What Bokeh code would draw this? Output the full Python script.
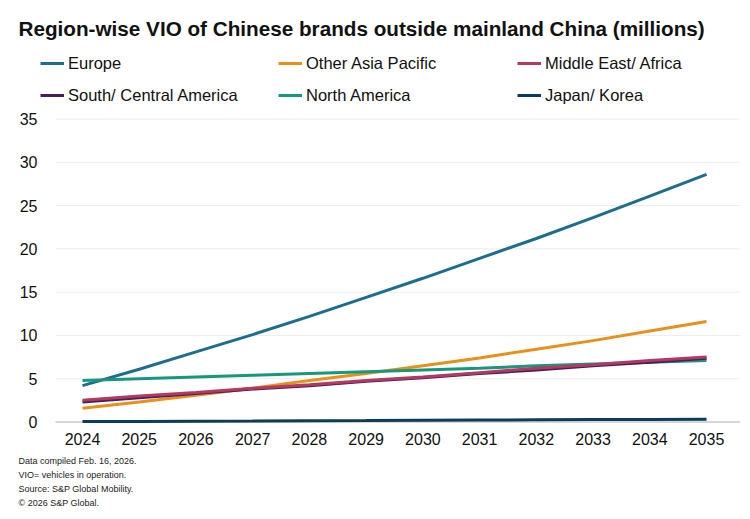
from bokeh.plotting import figure
from bokeh.models import Range1d, FixedTicker, Legend, LegendItem, Title
from bokeh.embed import file_html
from bokeh.resources import INLINE

years = [2024, 2025, 2026, 2027, 2028, 2029, 2030, 2031, 2032, 2033, 2034, 2035]
europe = [4.2, 6.1, 8.1, 10.1, 12.2, 14.4, 16.6, 18.9, 21.2, 23.6, 26.1, 28.6]
other_asia = [1.6, 2.3, 3.1, 3.9, 4.8, 5.6, 6.5, 7.4, 8.4, 9.4, 10.5, 11.6]
me_africa = [2.5, 3.0, 3.4, 3.9, 4.3, 4.8, 5.2, 5.7, 6.2, 6.6, 7.1, 7.5]
sc_america = [2.3, 2.8, 3.3, 3.8, 4.2, 4.7, 5.1, 5.6, 6.0, 6.5, 6.9, 7.35]
n_america = [4.8, 5.0, 5.2, 5.4, 5.6, 5.8, 6.0, 6.2, 6.5, 6.7, 6.9, 7.1]
japan_korea = [0.05, 0.07, 0.09, 0.11, 0.14, 0.16, 0.19, 0.22, 0.25, 0.28, 0.30, 0.33]

series = [
    ("Europe", europe, "#1c6e8c"),
    ("Other Asia Pacific", other_asia, "#e6911c"),
    ("North America", n_america, "#17977e"),
    ("South/ Central America", sc_america, "#4a1d5e"),
    ("Middle East/ Africa", me_africa, "#b23a5e"),
    ("Japan/ Korea", japan_korea, "#0d3b5c"),
]
legend_cols = [["Europe", "South/ Central America"],
               ["Other Asia Pacific", "North America"],
               ["Middle East/ Africa", "Japan/ Korea"]]
y_ticks = [0, 5, 10, 15, 20, 25, 30, 35]
notes = ["Data compiled Feb. 16, 2026.", "VIO= vehicles in operation.",
         "Source: S&P Global Mobility.", "\u00a9 2026 S&P Global."]
title_text = "Region-wise VIO of Chinese brands outside mainland China (millions)"

FONT = "Liberation Sans"
W, H = 750, 519
FL, FT, FR, FB = 38, 40, 740, 425          # frame edges in canvas pixels
PX_PER_YEAR = 56.73
PX_PER_UNIT = 303 / 35.0
X0_CANVAS = 82                               # canvas x of first year
Y0_CANVAS = 421.5                            # canvas y of value 0

x_start = years[0] - (X0_CANVAS - FL) / PX_PER_YEAR
x_end = years[0] + (FR - X0_CANVAS) / PX_PER_YEAR
y_start = -(FB - Y0_CANVAS) / PX_PER_UNIT
y_end = (Y0_CANVAS - FT) / PX_PER_UNIT
grid_x0 = years[0] - (X0_CANVAS - 55) / PX_PER_YEAR

p = figure(width=W, height=H, output_backend="svg", toolbar_location=None,
           x_range=Range1d(x_start, x_end), y_range=Range1d(y_start, y_end),
           min_border_left=FL, min_border_right=W - FR, min_border_top=FT,
           min_border_bottom=H - FB)
p.outline_line_color = None
p.background_fill_color = "white"

p.title.text = title_text
p.title.align = "left"
p.title.offset = 18 - FL
p.title.standoff = 2
p.title.text_font = FONT
p.title.text_font_size = "20.7px"
p.title.text_font_style = "bold"
p.title.text_color = "#111111"

for ax in (p.xaxis, p.yaxis):
    ax.axis_line_color = None
    ax.major_tick_line_color = None
    ax.minor_tick_line_color = None
    ax.major_tick_out = 0
    ax.major_tick_in = 0
    ax.minor_tick_out = 0
    ax.major_label_text_font = FONT
    ax.major_label_text_font_size = "16px"
    ax.major_label_text_color = "#111111"
p.xaxis.ticker = FixedTicker(ticks=years)
p.yaxis.ticker = FixedTicker(ticks=y_ticks)
p.xaxis.major_label_standoff = 7
p.yaxis.major_label_standoff = 1
p.xgrid.grid_line_color = None
p.ygrid.grid_line_color = None

# horizontal gridlines (start a little right of the axis labels)
grid_vals = [v for v in y_ticks if v != 0]
p.segment(x0=[grid_x0] * len(grid_vals), x1=[x_end] * len(grid_vals),
          y0=grid_vals, y1=grid_vals, line_color="#ececec", line_width=1)
p.segment(x0=[grid_x0], x1=[x_end], y0=[0], y1=[0], line_color="#c8c8c8", line_width=1.5)

renderers = {}
for name, vals, col in series:
    r = p.line(years, vals, line_color=col, line_width=3)
    renderers[name] = r

leg_x = [40, 278, 517]
for names, lx in zip(legend_cols, leg_x):
    lg = Legend(items=[LegendItem(label=n, renderers=[renderers[n]]) for n in names],
                location=(lx - FL, FB - 105), orientation="vertical",
                label_text_font=FONT, label_text_font_size="16.5px", label_text_color="#111111",
                glyph_width=24, glyph_height=20, label_height=20, label_standoff=4,
                spacing=12, padding=0, margin=0,
                border_line_alpha=0, background_fill_alpha=0)
    p.add_layout(lg, "center")

notes_title = Title(text="\n".join(notes), align="left", offset=18 - FL, standoff=12,
                    text_font=FONT, text_font_size="9px", text_font_style="normal",
                    text_line_height=1.4, text_color="#222222")
p.add_layout(notes_title, "below")

open("out.html", "w").write(file_html(p, INLINE))
